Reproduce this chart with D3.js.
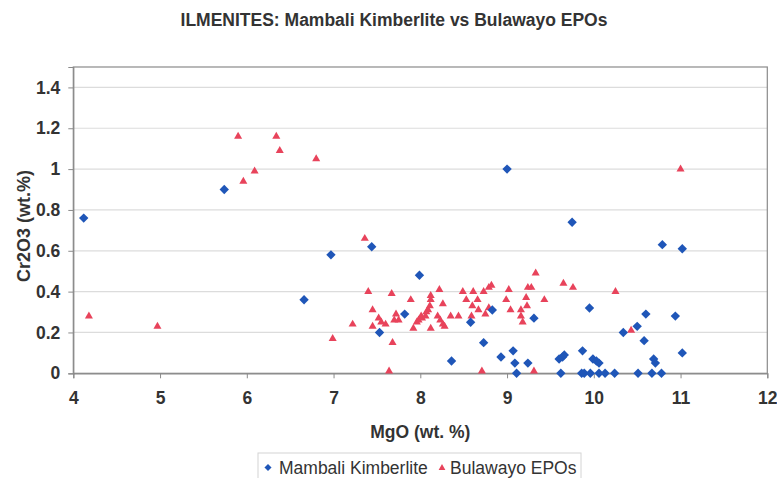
<!DOCTYPE html>
<html>
<head>
<meta charset="utf-8">
<script src="https://cdn.jsdelivr.net/npm/d3@7"></script>
<style>
  html, body { margin: 0; padding: 0; background: #fff; }
  svg { display: block; font-family: "Liberation Sans", Arial, sans-serif; }
</style>
</head>
<body>
<svg id="chart" width="777" height="478"></svg>
<script>
// Ilmenite compositions: MgO (wt.%) vs Cr2O3 (wt.%)
const mambaliMgO = [4.12, 5.74, 6.66, 6.97, 7.44, 7.53, 7.82, 7.99, 8.36, 8.58, 8.73, 8.83, 9.00, 8.93, 9.07, 9.09, 9.11, 9.24, 9.31,
  9.75, 9.95, 10.79, 11.02, 10.60, 10.94, 10.34, 10.50, 10.58, 9.87, 9.60, 9.64, 9.66, 9.99, 10.03, 10.06, 10.69, 10.71, 11.02,
  9.62, 9.86, 9.89, 9.96, 10.06, 10.13, 10.24, 10.51, 10.67, 10.78];
const mambaliCr2O3 = [0.76, 0.90, 0.36, 0.58, 0.62, 0.20, 0.29, 0.48, 0.06, 0.25, 0.15, 0.31, 1.00, 0.08, 0.11, 0.05, 0.00, 0.05, 0.27,
  0.74, 0.32, 0.63, 0.61, 0.29, 0.28, 0.20, 0.23, 0.16, 0.11, 0.07, 0.08, 0.09, 0.07, 0.06, 0.05, 0.07, 0.05, 0.10,
  0.00, 0.00, 0.00, 0.00, 0.00, 0.00, 0.00, 0.00, 0.00, 0.00];

const bulawayoMgO = [4.18, 4.97, 5.90, 5.96, 6.09, 6.34, 6.38, 6.80, 11.00, 7.36, 6.99, 7.22, 7.40, 7.67, 7.89, 7.45, 7.52, 7.72,
  7.70, 7.75, 7.45, 7.55, 7.60, 7.68, 7.64, 7.92, 7.96, 7.98, 8.01, 8.02, 8.06, 8.07, 8.09, 8.11, 8.12, 8.12, 8.12, 8.20,
  8.23, 8.26, 8.28, 8.22, 8.26, 8.35, 8.44, 8.49, 8.53, 8.60, 8.61, 8.66, 8.67, 8.59, 8.73, 8.75, 8.79, 8.82, 8.79, 8.71,
  8.99, 9.02, 9.04, 9.16, 9.16, 9.18, 9.22, 9.23, 9.24, 9.28, 9.33, 9.43, 9.31, 9.65, 9.76, 10.25, 10.43];
const bulawayoCr2O3 = [0.28, 0.23, 1.16, 0.94, 0.99, 1.16, 1.09, 1.05, 1.00, 0.66, 0.17, 0.24, 0.40, 0.39, 0.36, 0.31, 0.27, 0.29,
  0.26, 0.26, 0.23, 0.25, 0.24, 0.15, 0.01, 0.22, 0.25, 0.26, 0.28, 0.27, 0.28, 0.30, 0.31, 0.33, 0.36, 0.38, 0.22, 0.28,
  0.26, 0.24, 0.23, 0.41, 0.34, 0.28, 0.28, 0.40, 0.36, 0.33, 0.40, 0.36, 0.31, 0.28, 0.40, 0.29, 0.42, 0.43, 0.32, 0.01,
  0.36, 0.41, 0.31, 0.31, 0.28, 0.25, 0.37, 0.33, 0.42, 0.42, 0.49, 0.36, 0.01, 0.44, 0.42, 0.40, 0.21];

const xTicks = [4, 5, 6, 7, 8, 9, 10, 11, 12];
const yTicks = [0, 0.2, 0.4, 0.6, 0.8, 1, 1.2, 1.4];

const seriesNames = ["Mambali Kimberlite", "Bulawayo EPOs"];
const blue = "#1f56b8";
const red = "#e8435b";
const textColor = "#333";

const svg = d3.select("#chart");
const plot = { left: 73.3, right: 767.3, top: 67, bottom: 373.3 };

const x = d3.scaleLinear().domain([4, 12]).range([plot.left, plot.right]);
const y = d3.scaleLinear().domain([0, 1.5]).range([plot.bottom, plot.top]);

// Title
svg.append("text")
  .attr("x", 394).attr("y", 26)
  .attr("text-anchor", "middle")
  .attr("font-size", 17.5).attr("font-weight", "bold")
  .attr("fill", textColor)
  .text("ILMENITES: Mambali Kimberlite vs Bulawayo EPOs");

// Horizontal gridlines
svg.append("g")
  .selectAll("line")
  .data(yTicks.filter(d => d > 0))
  .join("line")
  .attr("x1", plot.left).attr("x2", plot.right)
  .attr("y1", d => y(d)).attr("y2", d => y(d))
  .attr("stroke", "#dcdcdc").attr("stroke-width", 1.2);

// Plot frame
svg.append("rect")
  .attr("x", plot.left).attr("y", plot.top)
  .attr("width", plot.right - plot.left).attr("height", plot.bottom - plot.top)
  .attr("fill", "none").attr("stroke", "#8a8a8a").attr("stroke-width", 1.2);

// Axes
const xAxis = svg.append("g")
  .attr("transform", `translate(0,${plot.bottom})`)
  .call(d3.axisBottom(x).tickValues(xTicks).tickFormat(d3.format("d")).tickSizeOuter(0).tickSize(5).tickPadding(13));
const yAxis = svg.append("g")
  .attr("transform", `translate(${plot.left},0)`)
  .call(d3.axisLeft(y).tickValues(yTicks).tickFormat(d => d === 0 || d === 1 ? d3.format("d")(d) : d3.format(".1f")(d))
    .tickSizeOuter(0).tickSize(5).tickPadding(8));

[xAxis, yAxis].forEach(a => {
  a.select(".domain").attr("stroke", "#8a8a8a").attr("stroke-width", 1.2);
  a.selectAll(".tick line").attr("stroke", "#8a8a8a");
  a.selectAll(".tick text")
    .attr("fill", textColor)
    .attr("font-size", 17.5).attr("font-weight", "bold")
    .attr("font-family", "'Liberation Sans', Arial, sans-serif");
});

// Axis titles
svg.append("text")
  .attr("x", (plot.left + plot.right) / 2).attr("y", 438)
  .attr("text-anchor", "middle")
  .attr("font-size", 17.5).attr("font-weight", "bold").attr("fill", textColor)
  .text("MgO (wt. %)");
svg.append("text")
  .attr("transform", `translate(30,226) rotate(-90)`)
  .attr("text-anchor", "middle")
  .attr("font-size", 18).attr("font-weight", "bold").attr("fill", textColor)
  .text("Cr2O3 (wt.%)");

// Marker shapes
const diamond = d3.symbol().type(d3.symbolDiamond2).size(56);
const triangle = d3.symbol().type(d3.symbolTriangle).size(28);

// Bulawayo EPOs (triangles)
svg.append("g")
  .selectAll("path")
  .data(d3.zip(bulawayoMgO, bulawayoCr2O3))
  .join("path")
  .attr("d", triangle)
  .attr("transform", d => `translate(${x(d[0])},${y(d[1])})`)
  .attr("fill", red);

// Mambali Kimberlite (diamonds)
svg.append("g")
  .selectAll("path")
  .data(d3.zip(mambaliMgO, mambaliCr2O3))
  .join("path")
  .attr("d", diamond)
  .attr("transform", d => `translate(${x(d[0])},${y(d[1])})`)
  .attr("fill", blue);

// Legend
const legend = svg.append("g");
legend.append("rect")
  .attr("x", 258).attr("y", 453).attr("width", 323).attr("height", 26)
  .attr("fill", "#fff").attr("stroke", "#d4d4d4").attr("stroke-width", 1);
legend.append("path")
  .attr("d", d3.symbol().type(d3.symbolDiamond2).size(32))
  .attr("transform", "translate(268,467.5)").attr("fill", blue);
legend.append("text")
  .attr("x", 279).attr("y", 473.5)
  .attr("font-size", 17.5).attr("fill", textColor)
  .text(seriesNames[0]);
legend.append("path")
  .attr("d", d3.symbol().type(d3.symbolTriangle).size(20))
  .attr("transform", "translate(442,468)").attr("fill", red);
legend.append("text")
  .attr("x", 450).attr("y", 473.5)
  .attr("font-size", 17.5).attr("fill", textColor)
  .text(seriesNames[1]);
</script>
</body>
</html>
